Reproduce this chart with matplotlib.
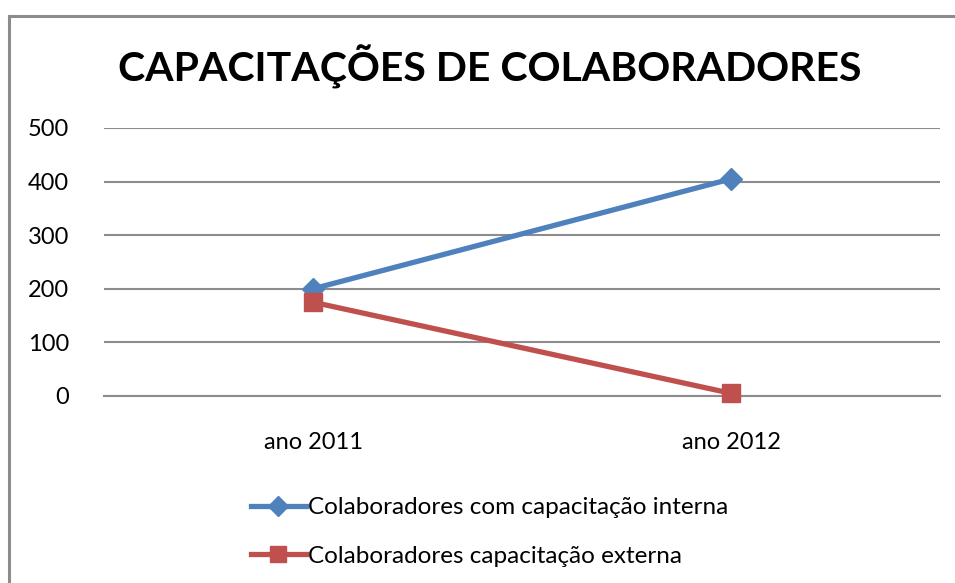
import matplotlib.pyplot as plt
from matplotlib.lines import Line2D

plt.rcParams['font.family'] = ['Lato', 'DejaVu Sans']

categories = ['ano 2011', 'ano 2012']
interna = [200, 405]
externa = [175, 5]
y_ticks = [0, 100, 200, 300, 400, 500]

W, H = 955, 583
fig = plt.figure(figsize=(W / 100, H / 100), dpi=100)

# outer chart border (left and top edges visible, rest cut off)
fig.add_artist(Line2D([9 / W, 9 / W], [0, 1 - 16 / H], color='#8c8c8c', lw=2.2))
fig.add_artist(Line2D([9 / W, 1.01], [1 - 16 / H, 1 - 16 / H], color='#8c8c8c', lw=2.2))

ax = fig.add_axes([104 / W, 1 - 396 / H, (940 - 104) / W, (396 - 128) / H])
x = range(len(categories))

ax.plot(x, interna, color='#4F81BD', lw=3.8, marker='D', markersize=11,
        clip_on=False, zorder=3, label='Colaboradores com capacitação interna')
ax.plot(x, externa, color='#C0504D', lw=3.8, marker='s', markersize=13,
        clip_on=False, zorder=3, label='Colaboradores capacitação externa')

ax.set_xlim(-0.5, 1.5)
ax.set_ylim(0, 500)
ax.set_yticks(y_ticks)
ax.set_xticks(list(x))
ax.set_xticklabels(categories)
ax.tick_params(axis='both', length=0, labelsize=17, colors='black')
ax.tick_params(axis='y', pad=25)
ax.tick_params(axis='x', pad=26)
ax.grid(axis='y', color='#8c8c8c', lw=1.5)
ax.set_axisbelow(True)
for s in ['top', 'right', 'left']:
    ax.spines[s].set_visible(False)
ax.spines['bottom'].set_color('#8c8c8c')
ax.spines['bottom'].set_linewidth(1.5)

fig.text(490 / W, 1 - 67 / H, 'CAPACITAÇÕES DE COLABORADORES',
         ha='center', va='center', fontsize=29.5, fontweight='bold')

ax.legend(loc='upper left', bbox_to_anchor=(251 / W, 1 - 497 / H),
          bbox_transform=fig.transFigure, frameon=False, fontsize=17.5,
          handlelength=2.25, handletextpad=0.1, labelspacing=1.15,
          borderpad=0, borderaxespad=0, markerscale=0.9)

fig.savefig('out.png', dpi=100)
